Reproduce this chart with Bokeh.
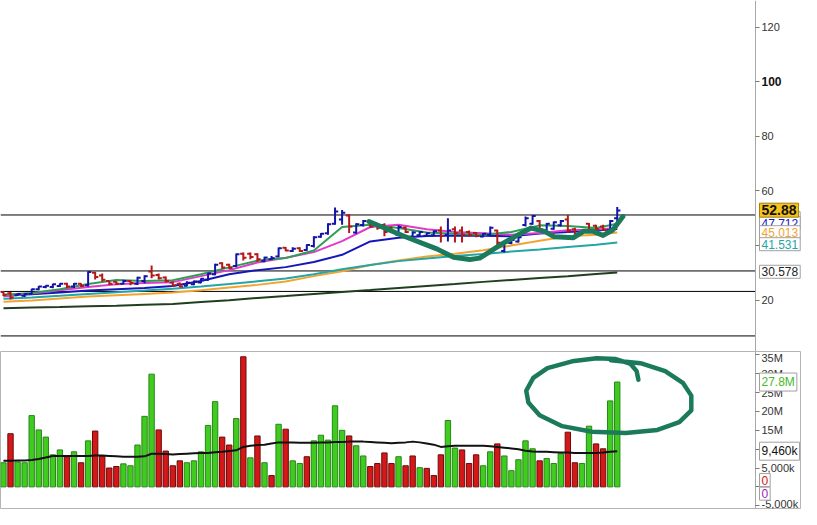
from bokeh.plotting import figure
from bokeh.layouts import column
from bokeh.models import Range1d, FixedTicker, Label, ColumnDataSource
from bokeh.embed import file_html
from bokeh.resources import INLINE

# ---------------- data ----------------
opens = [23.0, 22.5, 21.8, 21.6, 22.3, 24.0, 24.8, 24.8, 25.2, 26.0, 25.0, 26.0, 25.5, 30.0, 29.0, 27.0, 26.7, 26.0, 27.0, 26.0,
         27.0, 30.5, 29.2, 28.3, 26.5, 26.0, 25.3, 25.8, 26.5, 27.5, 29.5, 33.5, 33.0, 32.5, 37.0, 37.0, 36.8, 34.3, 35.0, 36.0,
         39.2, 38.0, 39.0, 38.4, 39.8, 43.2, 44.5, 48.0, 49.5, 51.0, 44.8, 47.5, 49.0, 48.0, 47.5, 46.5, 44.0, 46.5, 43.3, 43.8,
         43.6, 43.8, 45.5, 44.0, 46.0, 45.5, 45.0, 44.6, 43.3, 44.0, 45.5, 38.0, 40.9, 41.5, 47.5, 48.0, 49.0, 45.2, 46.2, 47.4,
         49.5, 46.0, 44.3, 48.0, 47.3, 47.0, 45.7, 50.0]
highs = [23.3, 23.0, 22.5, 22.5, 24.2, 25.2, 25.5, 26.0, 26.2, 26.4, 26.3, 26.2, 30.6, 30.4, 29.8, 27.1, 26.9, 27.5, 27.4, 28.6,
         29.1, 32.7, 29.8, 28.7, 26.8, 26.5, 26.9, 27.2, 28.0, 30.0, 33.3, 33.9, 33.3, 37.1, 37.5, 37.5, 37.2, 35.9, 36.2, 39.3,
         39.5, 39.4, 39.4, 40.5, 43.4, 44.6, 48.2, 53.9, 53.0, 51.5, 48.2, 49.4, 49.4, 48.3, 48.2, 47.0, 47.4, 47.0, 45.2, 45.2,
         44.8, 45.5, 47.0, 50.0, 47.0, 47.0, 45.5, 45.0, 44.6, 47.0, 45.8, 41.6, 42.2, 43.4, 50.6, 51.2, 49.4, 48.3, 48.8, 49.4,
         51.2, 46.5, 45.5, 48.3, 47.6, 47.6, 49.4, 54.1]
lows = [21.5, 20.2, 21.5, 21.2, 22.0, 23.6, 24.4, 24.4, 24.8, 24.4, 24.5, 24.8, 25.0, 27.6, 26.8, 25.6, 25.6, 25.8, 25.5, 25.6,
        26.2, 28.0, 27.6, 26.5, 25.0, 24.7, 25.1, 25.5, 26.2, 27.1, 29.1, 31.5, 31.5, 32.1, 34.5, 35.0, 34.0, 33.9, 34.7, 35.7,
        37.9, 37.6, 37.6, 38.1, 39.3, 42.9, 44.0, 47.6, 47.6, 44.6, 44.3, 47.0, 46.4, 45.8, 43.4, 44.6, 43.4, 44.6, 42.9, 43.4,
        43.4, 43.4, 41.1, 41.5, 41.1, 41.1, 43.2, 43.0, 43.0, 43.4, 39.9, 37.5, 40.5, 41.1, 47.0, 47.6, 45.2, 44.75, 45.8, 47.0,
        44.6, 43.4, 44.0, 45.2, 45.5, 45.5, 45.2, 48.5]
closes = [22.0, 21.0, 22.3, 22.3, 24.0, 25.0, 25.3, 25.8, 26.0, 25.0, 26.0, 25.2, 30.3, 28.5, 27.5, 26.0, 26.0, 27.0, 26.3, 28.2,
          28.8, 29.0, 28.0, 27.0, 25.5, 25.0, 26.4, 26.8, 27.8, 29.8, 33.0, 32.0, 31.8, 36.8, 35.5, 35.8, 35.0, 35.6, 35.4, 39.0,
          38.2, 38.8, 38.0, 40.2, 43.0, 44.3, 47.8, 52.5, 52.0, 47.0, 47.8, 49.0, 47.0, 46.5, 45.0, 45.2, 46.8, 45.0, 44.8, 45.0,
          44.5, 45.2, 43.5, 45.5, 44.5, 44.0, 44.0, 43.5, 44.3, 46.5, 41.0, 41.0, 42.0, 43.0, 50.0, 50.8, 46.0, 48.0, 48.5, 49.0,
          45.5, 44.0, 45.2, 45.8, 46.0, 45.7, 49.0, 52.88]

# volume in millions, and whether each volume bar is green (1) or red (0)
volumes = [6.4, 14.1, 6.6, 6.4, 18.9, 15.1, 13.2, 8.5, 9.8, 8.0, 9.3, 6.4, 12.2, 14.8, 8.2, 5.0, 5.4, 6.1, 5.6, 11.1,
           18.7, 29.9, 15.1, 9.5, 5.6, 6.9, 6.4, 6.9, 9.3, 16.3, 22.6, 13.2, 11.1, 18.1, 34.5, 7.7, 13.5, 6.4, 3.0, 16.6,
           15.3, 6.9, 6.2, 8.0, 12.2, 13.7, 12.4, 21.5, 15.0, 13.5, 10.9, 8.2, 5.4, 6.2, 9.0, 6.2, 8.0, 5.6, 8.2, 5.1,
           4.9, 3.0, 8.5, 17.6, 10.3, 9.8, 6.2, 8.5, 5.6, 9.3, 11.4, 8.2, 4.3, 7.2, 12.2, 10.1, 6.9, 7.5, 6.2, 8.8,
           14.5, 6.4, 6.2, 16.1, 11.4, 10.1, 22.8, 27.8]
vol_up = [1, 0, 1, 1, 1, 1, 1, 1, 1, 0, 1, 0, 1, 0, 0, 0, 0, 1, 1, 1,
          1, 1, 0, 0, 0, 0, 1, 1, 1, 1, 1, 0, 0, 1, 0, 1, 0, 1, 0, 1,
          0, 1, 1, 0, 1, 1, 1, 1, 1, 0, 1, 1, 0, 0, 0, 0, 1, 0, 0, 1,
          0, 0, 0, 1, 1, 0, 0, 0, 1, 1, 0, 1, 1, 1, 1, 1, 0, 1, 1, 1,
          0, 0, 1, 1, 0, 0, 1, 1]
vol_ma = [6.9, 6.9, 7.0, 7.0, 7.1, 7.4, 7.8, 8.2, 8.2, 8.2, 8.2, 8.2, 8.2, 8.3, 8.3, 8.2, 8.1, 8.0, 8.0, 8.0,
          8.1, 8.8, 8.8, 8.7, 8.6, 8.7, 8.8, 8.9, 9.0, 9.0, 9.2, 9.3, 9.5, 9.7, 10.6, 10.9, 11.1, 11.2, 11.5, 11.8,
          11.8, 11.8, 11.7, 11.7, 11.7, 11.8, 11.8, 11.9, 11.9, 12.0, 12.0, 12.0, 11.9, 11.8, 11.7, 11.6, 11.7, 11.8, 12.0, 11.8,
          11.5, 11.2, 10.6, 10.8, 10.9, 10.9, 10.9, 10.9, 10.9, 10.8, 10.6, 10.4, 10.2, 10.0, 9.6, 9.4, 9.3, 9.3, 9.2, 9.1,
          9.1, 9.0, 9.0, 9.0, 9.0, 9.1, 9.3, 9.46]

# moving averages, read at every 4th bar
ma_idx = [0, 4, 8, 12, 16, 20, 24, 28, 32, 36, 40, 44, 48, 52, 56, 60, 64, 68, 72, 76, 80, 84, 87]
ma_long = [17.0, 17.3, 17.5, 17.8, 18.0, 18.3, 18.6, 19.3, 20.0, 20.8, 21.5, 22.3, 23.0, 23.7, 24.5, 25.2, 25.9, 26.7, 27.4, 28.1, 28.8, 29.6, 30.1]
ma_orange = [19.4, 19.9, 20.6, 21.3, 21.8, 22.3, 22.8, 23.6, 24.6, 25.6, 26.8, 28.8, 30.6, 32.9, 34.5, 36.0, 37.0, 38.3, 40.0, 41.8, 43.4, 44.0, 44.8]
ma_teal = [20.5, 21.0, 21.6, 22.3, 22.9, 23.5, 24.2, 25.0, 25.9, 26.9, 27.9, 29.5, 31.3, 32.9, 34.3, 35.3, 36.2, 36.9, 37.8, 38.6, 39.5, 40.3, 41.1]
ma_blue = [21.6, 22.2, 22.8, 23.5, 24.0, 24.5, 25.2, 27.0, 29.5, 31.0, 32.1, 34.0, 36.6, 41.5, 42.9, 43.5, 43.7, 43.6, 43.4, 44.4, 45.0, 45.5, 46.1]
ma_magenta = [21.4, 22.4, 23.6, 24.8, 25.8, 26.3, 26.6, 28.8, 31.0, 33.8, 35.5, 37.6, 41.6, 46.8, 47.6, 46.0, 45.0, 44.5, 44.0, 44.6, 45.6, 45.9, 46.4]
ma_green = [22.0, 22.6, 24.0, 25.9, 27.4, 27.0, 27.3, 29.5, 32.0, 34.5, 35.4, 38.2, 46.8, 47.6, 46.4, 44.8, 44.3, 43.9, 45.0, 47.4, 47.2, 46.4, 48.0]

# hand-drawn annotations (bar index, value)
draw_price_x = [51.8, 56.8, 61.5, 63.8, 66.1, 67.5, 68.8, 70.6, 73.0, 74.8, 76.7, 78.1, 80.8, 82.2, 83.6, 85.0, 86.4, 87.8]
draw_price_y = [48.8, 43.4, 38.7, 35.7, 34.9, 35.4, 37.5, 40.5, 44.0, 46.4, 45.2, 43.2, 42.9, 45.2, 45.2, 43.7, 45.8, 50.6]
draw_vol_x = [90.0, 89.75, 88.9, 86.8, 84.1, 80.6, 77.1, 75.1, 74.1, 74.4, 76.0, 79.2, 83.4, 88.2, 92.7, 95.8, 97.5, 97.5, 96.3, 93.8, 90.3, 86.1]
draw_vol_y = [28.4, 30.7, 32.6, 33.9, 34.1, 33.3, 31.5, 28.9, 25.5, 22.4, 19.0, 16.1, 14.6, 14.3, 15.1, 17.2, 20.3, 24.2, 27.6, 30.7, 32.8, 33.6]

level_lines = [51.2, 30.7, 23.2, 6.9]
price_ticks = [20, 40, 60, 80, 100, 120]
vol_ticks = [-5, 0, 5, 10, 15, 20, 25, 30, 35]
vol_tick_text = {35: "35M", 30: "30M", 25: "25M", 20: "20M", 15: "15M", 10: "", 5: "5,000k", 0: "", -5: "-5,000k"}

# ---------------- drawing ----------------
W = 801
X0 = -0.42          # left edge of the frame (bar index)
AX = 106.6          # where the price/volume axis sits (bar index)
X1 = 113.12         # right edge of the frame, leaves room for the axis column
FONT = "Liberation Sans"

idx = list(range(len(closes)))
bar_col = ["#1414aa" if c >= o else "#b41818" for o, c in zip(opens, closes)]
src = ColumnDataSource(dict(x=idx, o=opens, h=highs, l=lows, c=closes,
                            xl=[i - 0.45 for i in idx], xr=[i + 0.45 for i in idx], col=bar_col))


def style_axis(p):
    ax = p.yaxis[0]
    ax.fixed_location = AX
    ax.axis_line_color = "#a8a8a8"
    ax.major_tick_line_color = "#777777"
    ax.major_tick_out = 4
    ax.major_tick_in = 0
    ax.minor_tick_line_color = None
    ax.major_label_standoff = 2
    ax.major_label_text_font = FONT
    ax.major_label_text_font_size = "11px"
    ax.major_label_text_color = "#333333"


def axis_label(p, y, text, color, bg="white", border="#a0a0a0", bold=False, size="12px"):
    p.add_layout(Label(x=AX, y=y, x_units="data", y_units="data", text=text,
                       x_offset=4, text_baseline="middle", text_align="left",
                       text_font=FONT, text_font_size=size, text_color=color,
                       text_font_style="bold" if bold else "normal",
                       background_fill_color=bg, border_line_color=border, padding=2))


p1 = figure(width=W, height=351, x_range=Range1d(X0, X1), y_range=Range1d(1.2, 129.75),
            y_axis_location="right", toolbar_location=None, output_backend="svg",
            min_border_left=0, min_border_right=0, min_border_top=0, min_border_bottom=0)
p1.xaxis.visible = False
p1.grid.visible = False
p1.outline_line_color = None
p1.yaxis.ticker = FixedTicker(ticks=price_ticks)
p1.yaxis.major_label_overrides = {40: "", 100: ""}
style_axis(p1)

p1.segment(x0=[X0] * len(level_lines), y0=level_lines, x1=[AX] * len(level_lines), y1=level_lines,
           line_color="black", line_width=1)

p1.line(ma_idx, ma_long, line_color="#1f3f1f", line_width=2)
p1.line(ma_idx, ma_orange, line_color="#f2a431", line_width=2)
p1.line(ma_idx, ma_teal, line_color="#25a5a5", line_width=2)
p1.line(ma_idx, ma_blue, line_color="#1616b8", line_width=2)
p1.line(ma_idx, ma_magenta, line_color="#e03ccc", line_width=2)
p1.line(ma_idx, ma_green, line_color="#2f9e55", line_width=2)

p1.segment(x0="x", y0="l", x1="x", y1="h", line_color="col", line_width=2, source=src)
p1.segment(x0="xl", y0="o", x1="x", y1="o", line_color="col", line_width=2, source=src)
p1.segment(x0="x", y0="c", x1="xr", y1="c", line_color="col", line_width=2, source=src)

p1.line(draw_price_x, draw_price_y, line_color="#1b7a5c", line_width=5,
        line_cap="round", line_join="round")

axis_label(p1, 50.0, "49.264", "#2f9e55")
axis_label(p1, 48.2, "47.712", "#1616b8")
axis_label(p1, 44.9, "45.013", "#f2a431")
axis_label(p1, 40.5, "41.531", "#25a5a5")
axis_label(p1, 30.4, "30.578", "#222222")
axis_label(p1, 52.96, "52.88", "#111111", bg="#f6c21c", border="#a08010", bold=True, size="14px")
p1.add_layout(Label(x=AX, y=100, x_units="data", y_units="data", text="100", x_offset=6,
                    text_baseline="middle", text_font=FONT, text_font_size="12px",
                    text_font_style="bold", text_color="#111111"))

# ---------------- volume ----------------
p2 = figure(width=W, height=158, x_range=p1.x_range, y_range=Range1d(-6.0, 35.9),
            y_axis_location="right", toolbar_location=None, output_backend="svg",
            min_border_left=0, min_border_right=0, min_border_top=0, min_border_bottom=0)
p2.xaxis.visible = False
p2.grid.visible = False
p2.outline_line_color = "#b4b4b4"
p2.yaxis.ticker = FixedTicker(ticks=vol_ticks)
p2.yaxis.major_label_overrides = vol_tick_text
style_axis(p2)

vsrc = ColumnDataSource(dict(x=idx, top=volumes,
                             fill=["#40cc1e" if u else "#d41818" for u in vol_up],
                             line=["#26861a" if u else "#6e0a0a" for u in vol_up]))
p2.vbar(x="x", top="top", bottom=0, width=0.76, fill_color="fill", line_color="line",
        line_width=1, source=vsrc)
p2.line(idx, vol_ma, line_color="#111111", line_width=2)
p2.line(draw_vol_x, draw_vol_y, line_color="#1b7a5c", line_width=4.5,
        line_cap="round", line_join="round")

axis_label(p2, 27.8, "27.8M", "#44bb22")
axis_label(p2, 9.46, "9,460k", "#111111")
axis_label(p2, 1.8, "0", "#cc1111")
axis_label(p2, -1.8, "0", "#a020c0")

layout = column(p1, p2, spacing=0)
open("out.html", "w").write(file_html(layout, INLINE))
